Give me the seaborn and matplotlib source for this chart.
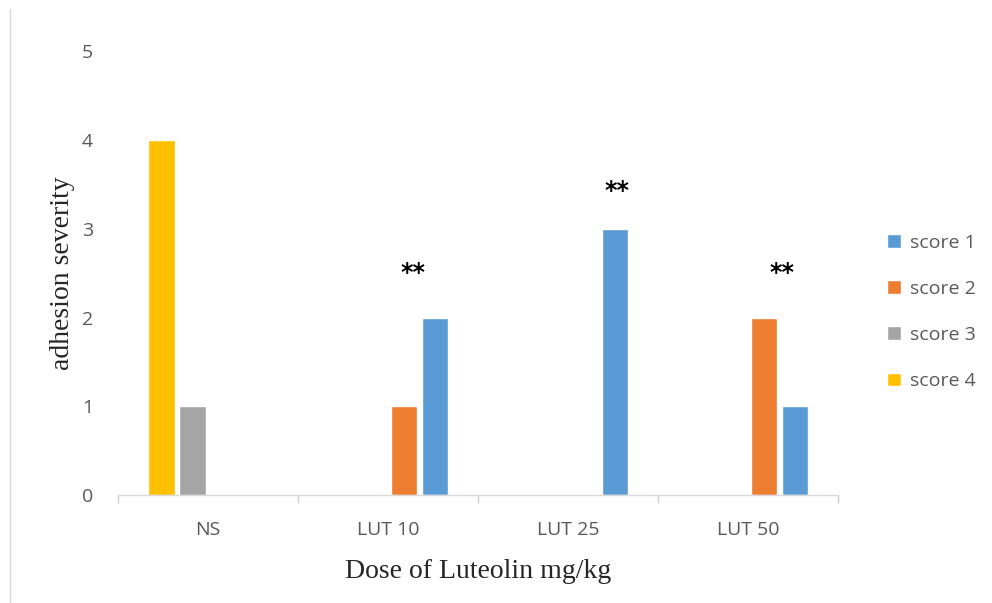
import pandas as pd
import numpy as np
from matplotlib import pyplot as plt
from matplotlib.ticker import FixedLocator
import seaborn as sns

# data
groups = ["NS", "LUT 10", "LUT 25", "LUT 50"]
score_1 = [0, 2, 3, 1]
score_2 = [0, 1, 0, 2]
score_3 = [1, 0, 0, 0]
score_4 = [4, 0, 0, 0]
# significance marks: group, x offset inside the group, height
star_groups = ["LUT 10", "LUT 25", "LUT 50"]
star_offsets = [0.14, 0.27, 0.19]
star_heights = [2.5, 3.43, 2.5]

colors = {"score 1": "#5B9BD5", "score 2": "#ED7D31",
          "score 3": "#A5A5A5", "score 4": "#FFC000"}

# long format for seaborn
rows = []
for name, vals in [("score 1", score_1), ("score 2", score_2),
                   ("score 3", score_3), ("score 4", score_4)]:
    for g, v in zip(groups, vals):
        rows.append({"group": g, "score": name, "value": v})
df = pd.DataFrame(rows)

sns.set_style("white")
fig = plt.figure(figsize=(9.92, 6.03), dpi=100)
ax = fig.add_axes([0.119, 0.179, 0.726, 0.736])

sns.barplot(data=df, x="group", y="value", hue="score", order=groups,
            hue_order=["score 4", "score 3", "score 2", "score 1"],
            palette=colors, width=0.69, gap=0.16, ax=ax, saturation=1)

ax.set_ylim(0, 5)
ax.set_xlim(-0.5, 3.5)
ax.set_yticks([0, 1, 2, 3, 4, 5])
for s in ["top", "right", "left"]:
    ax.spines[s].set_visible(False)
ax.spines["bottom"].set_color("#D9D9D9")
ax.spines["bottom"].set_linewidth(1.0)
ax.tick_params(axis="x", which="major", length=0, pad=19, labelsize=14, labelcolor="#595959")
ax.tick_params(axis="y", length=0, pad=18, labelsize=14, labelcolor="#595959")
# category boundary ticks (the white style turns bottom ticks off)
ax.xaxis.set_minor_locator(FixedLocator(np.arange(-0.5, 4, 1)))
ax.tick_params(axis="x", which="minor", bottom=True, length=6, width=1,
               color="#D0D0D0", direction="out")
for lab in ax.get_xticklabels() + ax.get_yticklabels():
    lab.set_family("Open Sans")

ax.set_xlabel("Dose of Luteolin mg/kg", family="Liberation Serif", fontsize=20, labelpad=14)
ax.set_ylabel("adhesion severity", family="Liberation Serif", fontsize=20, labelpad=5)

for g, off, h in zip(star_groups, star_offsets, star_heights):
    ax.text(groups.index(g) + off, h, "**", ha="center", va="center",
            fontsize=17, fontweight="bold", color="black")

handles, labels = ax.get_legend_handles_labels()
ax.legend(handles[::-1], labels[::-1], loc="center left", bbox_to_anchor=(1.044, 0.4125),
          frameon=False, labelspacing=1.45, handlelength=0.7, handleheight=0.7,
          handletextpad=0.45, prop={"family": "Open Sans", "size": 14}, labelcolor="#595959")

# thin frame line on the left like the original
fig.add_artist(plt.Line2D([0.01, 0.01], [0.0, 0.985], color="#D9D9D9", lw=1))

plt.savefig("out.png", dpi=100)
